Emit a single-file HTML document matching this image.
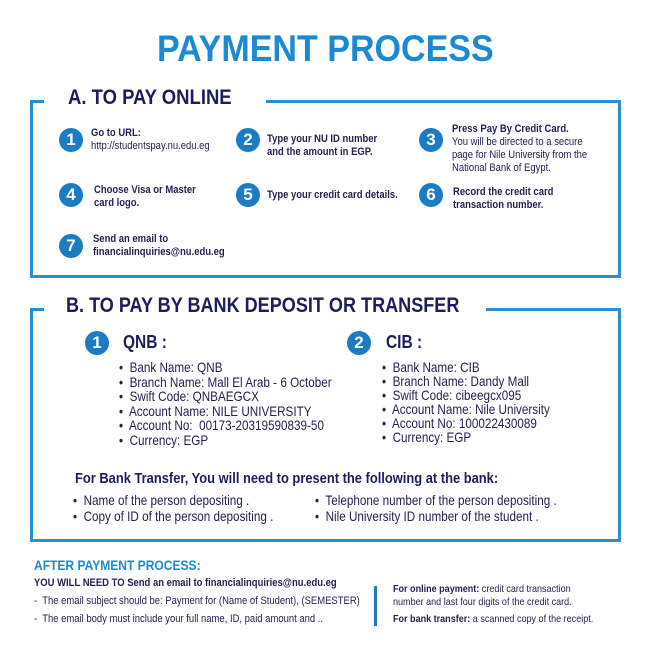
<!DOCTYPE html>
<html><head><meta charset="utf-8"><style>
*{margin:0;padding:0;box-sizing:border-box}
body{width:650px;height:650px;background:#fff;position:relative;overflow:hidden;font-family:"Liberation Sans",sans-serif;color:#23234f}
.a{position:absolute;white-space:nowrap;transform-origin:0 0;transform:scaleX(.86)}
.b{font-weight:bold}
.box{position:absolute;border:3px solid #2a8ed6}
.gap{position:absolute;background:#fff;height:6px}
.n{position:absolute;width:24px;height:24px;border-radius:50%;background:#1b7cc3;color:#fff;font-weight:bold;font-size:17px;text-align:center;line-height:24px}
.s{font-size:11px;line-height:13px}
.m{font-size:13.6px;line-height:14.5px}
</style></head><body>
<div class="a b" style="left:157px;top:28px;font-size:37px;color:#1a8ad4;transform:scaleX(.92)">PAYMENT PROCESS</div>

<div class="box" style="left:30px;top:100px;width:591px;height:178px"></div>
<div class="gap" style="left:44px;top:98px;width:222px"></div>
<div class="a b" style="left:68px;top:86px;font-size:21px;color:#1d1d5e;transform:scaleX(.88)">A. TO PAY ONLINE</div>

<div class="n" style="left:59px;top:128px">1</div>
<div class="a s" style="left:91px;top:127px"><b>Go to URL:</b><br>http://studentspay.nu.edu.eg</div>
<div class="n" style="left:236px;top:128px">2</div>
<div class="a s b" style="left:267px;top:133px">Type your NU ID number<br>and the amount in EGP.</div>
<div class="n" style="left:419px;top:128px">3</div>
<div class="a s" style="left:452px;top:123px"><b>Press Pay By Credit Card.</b><br>You will be directed to a secure<br>page for Nile University from the<br>National Bank of Egypt.</div>
<div class="n" style="left:59px;top:183px">4</div>
<div class="a s b" style="left:94px;top:184px">Choose Visa or Master<br>card logo.</div>
<div class="n" style="left:236px;top:183px">5</div>
<div class="a s b" style="left:267px;top:189px">Type your credit card details.</div>
<div class="n" style="left:419px;top:183px">6</div>
<div class="a s b" style="left:453px;top:186px">Record the credit card<br>transaction number.</div>
<div class="n" style="left:59px;top:234px">7</div>
<div class="a s b" style="left:93px;top:233px">Send an email to<br>financialinquiries@nu.edu.eg</div>

<div class="box" style="left:30px;top:308px;width:591px;height:234px"></div>
<div class="gap" style="left:44px;top:306px;width:442px"></div>
<div class="a b" style="left:66px;top:294px;font-size:21px;color:#1d1d5e">B. TO PAY BY BANK DEPOSIT OR TRANSFER</div>

<div class="n" style="left:85px;top:331px">1</div>
<div class="a b" style="left:123px;top:332px;font-size:18px;color:#1d1d5e">QNB :</div>
<div class="a m" style="left:119px;top:361px">•&nbsp; Bank Name: QNB<br>•&nbsp; Branch Name: Mall El Arab - 6 October<br>•&nbsp; Swift Code: QNBAEGCX<br>•&nbsp; Account Name: NILE UNIVERSITY<br>•&nbsp; Account No:&nbsp; 00173-20319590839-50<br>•&nbsp; Currency: EGP</div>
<div class="n" style="left:347px;top:331px">2</div>
<div class="a b" style="left:386px;top:332px;font-size:18px;color:#1d1d5e">CIB :</div>
<div class="a m" style="left:382px;top:361px;line-height:14px">•&nbsp; Bank Name: CIB<br>•&nbsp; Branch Name: Dandy Mall<br>•&nbsp; Swift Code: cibeegcx095<br>•&nbsp; Account Name: Nile University<br>•&nbsp; Account No: 100022430089<br>•&nbsp; Currency: EGP</div>

<div class="a b" style="left:75px;top:470px;font-size:15px;color:#1d1d5e">For Bank Transfer, You will need to present the following at the bank:</div>
<div class="a" style="left:73px;top:493px;font-size:13.6px;line-height:16px">•&nbsp; Name of the person depositing .<br>•&nbsp; Copy of ID of the person depositing .</div>
<div class="a" style="left:315px;top:493px;font-size:13.6px;line-height:16px">•&nbsp; Telephone number of the person depositing .<br>•&nbsp; Nile University ID number of the student .</div>

<div class="a b" style="left:34px;top:557px;font-size:14px;color:#1a8ad4">AFTER PAYMENT PROCESS:</div>
<div class="a b" style="left:34px;top:577px;font-size:11px">YOU WILL NEED TO Send an email to financialinquiries@nu.edu.eg</div>
<div class="a" style="left:34px;top:595px;font-size:11px">-&nbsp; The email subject should be: Payment for (Name of Student), (SEMESTER)</div>
<div class="a" style="left:34px;top:613px;font-size:11px">-&nbsp; The email body must include your full name, ID, paid amount and ..</div>
<div style="position:absolute;left:374px;top:586px;width:3px;height:40px;background:#1b7cc3"></div>
<div class="a" style="left:393px;top:583px;font-size:10.5px;line-height:13px"><b>For online payment:</b> credit card transaction<br>number and last four digits of the credit card.</div>
<div class="a" style="left:393px;top:613px;font-size:10.5px"><b>For bank transfer:</b> a scanned copy of the receipt.</div>
</body></html>
